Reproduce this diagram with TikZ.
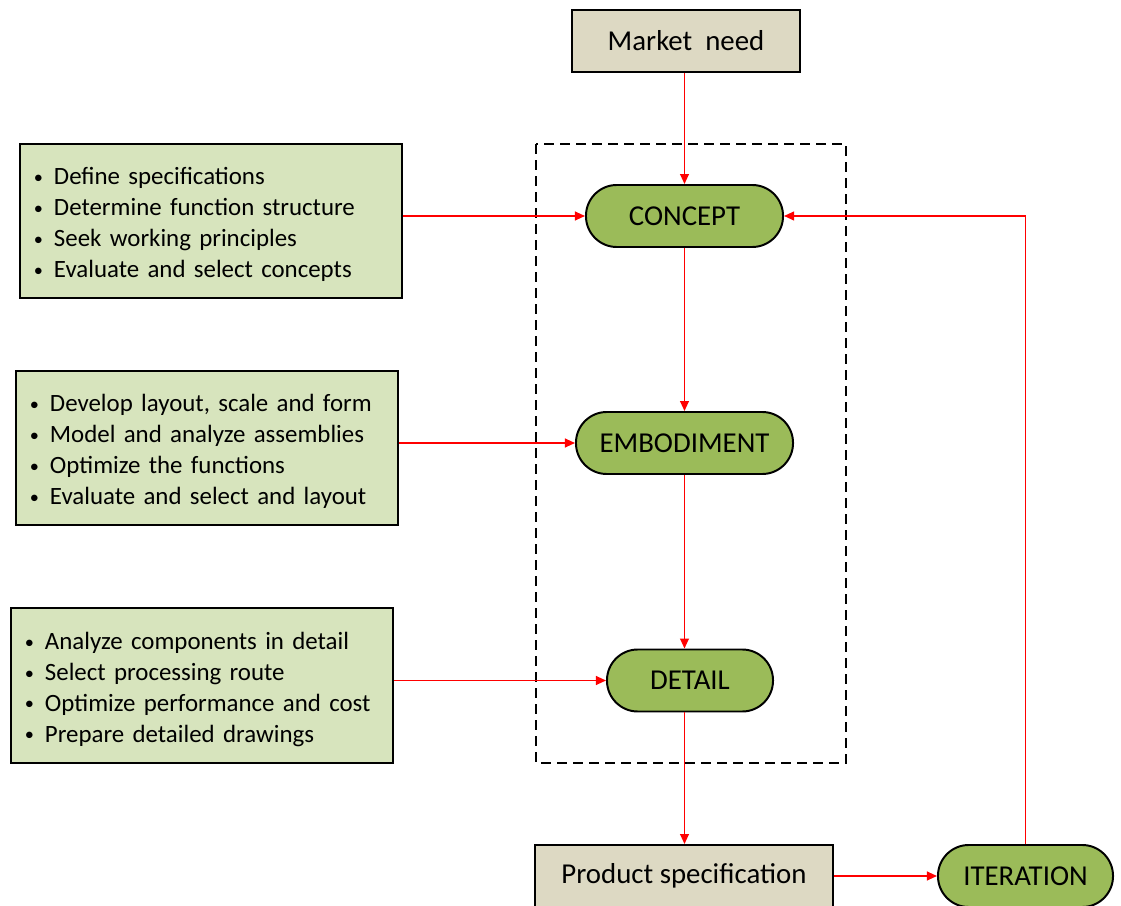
\documentclass[tikz,border=0pt]{standalone}
\usepackage{fontspec}
\setmainfont{Carlito}
\usetikzlibrary{arrows.meta}
\definecolor{stagegreen}{HTML}{9BBB59}
\definecolor{tanfill}{HTML}{DDD9C3}
\definecolor{listfill}{HTML}{D7E4BD}
\tikzstyle{stage} = [
    rectangle, rounded corners=0.77cm, minimum height=1.55cm,
    text centered, draw=black, line width=1.4pt, fill=stagegreen,
    font=\fontsize{20.5}{24}\selectfont
]
\tikzstyle{tanbox} = [
    rectangle, minimum height=1.55cm,
    text centered, draw=black, line width=1.4pt, fill=tanfill,
    font=\fontsize{20.5}{24}\selectfont
]
\tikzstyle{listbox} = [
    rectangle, minimum width=9.55cm, minimum height=3.85cm,
    inner xsep=0.35cm, text width=8.85cm, align=left,
    draw=black, line width=1.4pt, fill=listfill,
    font=\fontsize{17.7}{22}\selectfont
]
\tikzstyle{arrow} = [red, line width=1.1pt, -{Triangle[length=0.25cm,width=0.22cm]}]
\newcommand{\itembul}{\makebox[0.5cm][l]{\raisebox{0.1ex}{\fontsize{13}{13}\selectfont\textbullet}}}
\newcommand{\topstrut}{\rule{0pt}{17.5pt}}

\begin{document}
\begin{tikzpicture}[x=0.025cm, y=-0.025cm]
            \useasboundingbox (0,0) rectangle (1121,906);
            \clip (0,0) rectangle (1121,906);

            \draw [black, line width=1.4pt, dash pattern=on 0.25cm off 0.15cm]
                (536,144) rectangle (846,763);

            \node (market) [tanbox, minimum width=5.7cm] at (686,41) {Market\ \ need};
            \node (concept) [stage, minimum width=4.925cm] at (684.5,216) {CONCEPT};
            \node (embod) [stage, minimum width=5.425cm] at (684.5,443) {EMBODIMENT};
            \node (detail) [stage, minimum width=4.15cm] at (690,680.5) {DETAIL};
            \node (product) [tanbox, minimum width=7.45cm] at (684,876) {\raisebox{-0.1cm}{Product specification}};
            \node (iter) [stage, minimum width=4.375cm] at (1025.5,876) {ITERATION};

            \node (tasks1) [listbox] at (211,221) {\topstrut\itembul Define specifications\\
                \itembul Determine function structure\\
                \itembul Seek working principles\\
                \itembul Evaluate and select concepts};
            \node (tasks2) [listbox] at (207,448) {\topstrut\itembul Develop layout, scale and form\\
                \itembul Model and analyze assemblies\\
                \itembul Optimize the functions\\
                \itembul Evaluate and select and layout};
            \node (tasks3) [listbox] at (202,685.5) {\topstrut\itembul Analyze components in detail\\
                \itembul Select processing route\\
                \itembul Optimize performance and cost\\
                \itembul Prepare detailed drawings};

            \draw [arrow] (concept.north |- market.south) -- (concept.north);
            \draw [arrow] (concept) -- (embod);
            \draw [arrow] (embod.south) -- (embod.south |- detail.north);
            \draw [arrow] (embod.south |- detail.south) -- (embod.south |- product.north);
            \draw [arrow] (product) -- (iter);

            \draw [arrow] (tasks1.east |- concept.west) -- (concept.west);
            \draw [arrow] (tasks2.east |- embod.west) -- (embod.west);
            \draw [arrow] (tasks3.east |- detail.west) -- (detail.west);

            \draw [arrow] (iter.north) -- (iter.north |- concept.east) -- (concept.east);
        \end{tikzpicture}
\end{document}
